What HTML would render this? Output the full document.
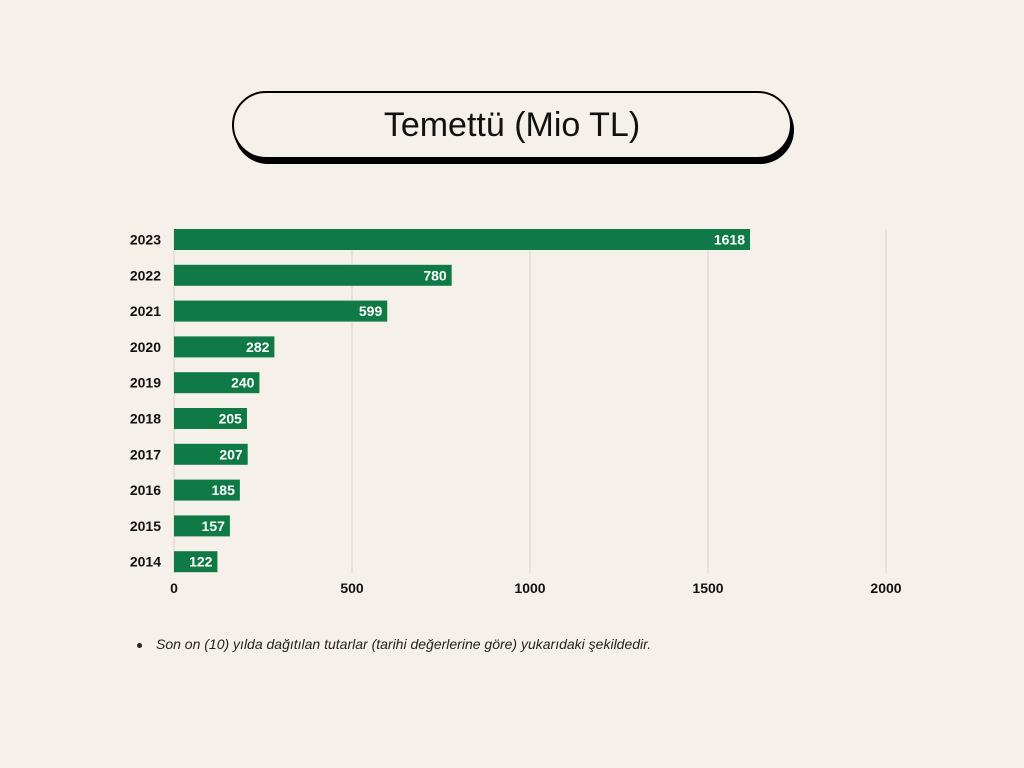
<!DOCTYPE html>
<html><head><meta charset="utf-8"><style>
body{margin:0;background:#f5f1ea;width:1024px;height:768px;overflow:hidden;font-family:"Liberation Sans",sans-serif}
.pill{position:absolute;left:232px;top:91px;width:556px;height:64px;border:2px solid #000;border-radius:34px;background:#f5f1ea;box-shadow:2px 5px 0 #000;text-align:center;line-height:64px;font-size:34px;color:#111}
.note{position:absolute;left:137px;top:636px;font-size:14px;font-style:italic;color:#222}
.note:before{content:"";display:inline-block;width:5px;height:5px;border-radius:50%;background:#222;margin-right:14px;vertical-align:middle}
</style></head><body>
<div class="pill">Temettü (Mio TL)</div>
<svg id="chart" width="1024" height="768" style="position:absolute;left:0;top:0"></svg>
<div class="note">Son on (10) yılda dağıtılan tutarlar (tarihi değerlerine göre) yukarıdaki şekildedir.</div>
<script>
const years=["2023","2022","2021","2020","2019","2018","2017","2016","2015","2014"];
const values=[1618,780,599,282,240,205,207,185,157,122];
const ticks=[0,500,1000,1500,2000];
const svg=document.getElementById('chart');const NS="http://www.w3.org/2000/svg";
const x=v=>174+v*(712/2000);
const y=i=>239.5+i*35.8;
function mk(t,a){const e=document.createElementNS(NS,t);for(const k in a)e.setAttribute(k,a[k]);svg.appendChild(e);return e;}
ticks.forEach(t=>{
 if(t>0){const l=mk('line',{x1:x(t),x2:x(t),y1:229,y2:573,stroke:'#ddd8d0','stroke-width':1.2});
 
 }
 const tx=mk('text',{x:x(t),y:593,'text-anchor':'middle','font-size':14,'font-weight':'bold',fill:'#111','font-family':'Liberation Sans'});tx.textContent=t;
 
 
});
const ax=mk('line',{x1:174,x2:174,y1:229,y2:573,stroke:'#ddd8d0','stroke-width':1.2});


years.forEach((yr,i)=>{
 const b=mk('rect',{x:x(0),y:y(i)-10.5,width:x(values[i])-x(0),height:21,fill:'#0f7a45'});
 
 
 const lb=mk('text',{x:161,y:y(i)+5,'text-anchor':'end','font-size':14,'font-weight':'bold',fill:'#111','font-family':'Liberation Sans'});lb.textContent=yr;
 
 
 const v=mk('text',{x:x(values[i])-5,y:y(i)+5,'text-anchor':'end','font-size':14,'font-weight':'bold',fill:'#fff','font-family':'Liberation Sans'});v.textContent=values[i];
 
 
});
</script>
</body></html>
